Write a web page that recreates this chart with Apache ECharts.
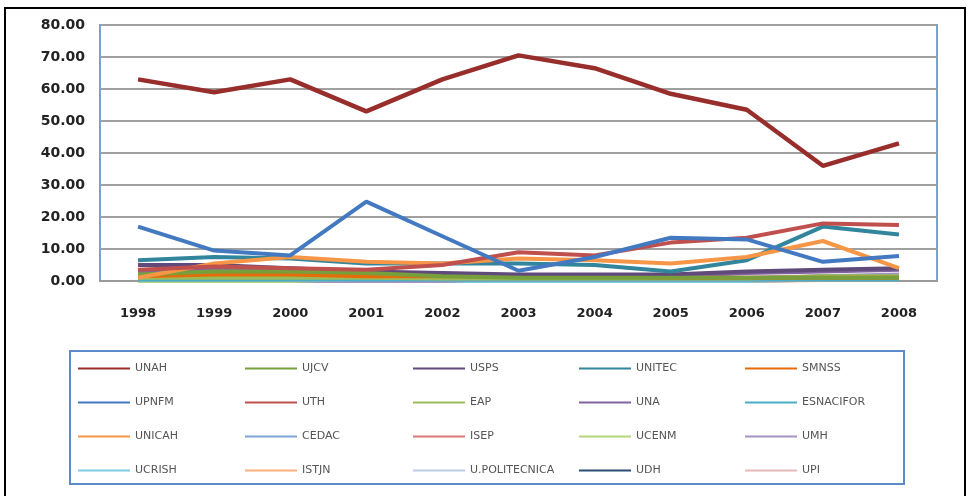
<!DOCTYPE html>
<html>
<head>
<meta charset="utf-8">
<script src="https://cdn.jsdelivr.net/npm/echarts@6/dist/echarts.min.js"></script>
<style>
  html, body { margin: 0; padding: 0; background: #fff; }
  #chart { width: 969px; height: 496px; }
</style>
</head>
<body>
<div id="chart"></div>
<script>
// años y valores por institución
var years = ['1998', '1999', '2000', '2001', '2002', '2003', '2004', '2005', '2006', '2007', '2008'];

var UNAH = [63, 59, 63, 53, 63, 70.5, 66.5, 58.5, 53.5, 36, 43];
var UJCV = [2, 3, 3, 2.5, 1.5, 1, 1, 1, 1, 1, 1];
var USPS = [5, 5, 4, 3, 2.5, 2, 2, 2, 3, 3.5, 4];
var UNITEC = [6.5, 7.5, 7, 5.5, 5.5, 5.5, 5, 3, 6.5, 17, 14.5];
var SMNSS = [1.5, 2, 2, 1.5, 1.5, 1.5, 1.5, 1, 1, 1, 1];
var UPNFM = [17, 9.5, 8, 24.8, 14, 3.2, 7.5, 13.5, 13, 6, 7.8];
var UTH = [3.5, 4.5, 4, 3.5, 5, 9, 8, 12, 13.5, 18, 17.5];
var EAP = [1, 1, 1, 1, 0.8, 0.8, 0.8, 0.8, 0.8, 1.5, 1.5];
var UNA = [3, 3.5, 3, 2.5, 2, 1.5, 1.5, 1.5, 2.5, 3, 3.5];
var ESNACIFOR = [0.5, 0.5, 0.5, 0.5, 0.5, 0.5, 0.5, 0.5, 0.5, 0.5, 0.5];
var UNICAH = [1, 5.5, 7.5, 6, 5.5, 7, 6.5, 5.5, 7.5, 12.5, 4];
var CEDAC = [0.5, 0.5, 0.5, 0.5, 0.5, 0.5, 0.5, 0.5, 0.5, 1.5, 1.5];
var ISEP = [0.7, 0.7, 0.7, 0.7, 0.5, 0.5, 0.5, 0.5, 0.5, 0.5, 0.5];
var UCENM = [0, 0, 0, 0.8, 0.8, 0.8, 0.8, 0.8, 0.8, 0.5, 0.5];
var UMH = [0, 0, 0, 0, 0, 1, 1, 1, 1, 1.5, 2];
var UCRISH = [0, 0, 0, 0, 0, 0, 0, 0, 0, 0.5, 0.5];
var ISTJN = [0, 0, 0, 0, 0, 0, 0, 0, 0, 0.3, 0.3];
var UPOLITECNICA = [0, 0, 0, 0, 0, 0, 0, 0.5, 0.5, 0.8, 0.8];
var UDH = [0, 0, 0, 0, 0, 0, 0, 0, 0, 1, 1];
var UPI = [0, 0, 0, 0, 0, 0, 0, 0, 0, 0.5, 0.5];

var names = ['UNAH', 'UJCV', 'USPS', 'UNITEC', 'SMNSS',
             'UPNFM', 'UTH', 'EAP', 'UNA', 'ESNACIFOR',
             'UNICAH', 'CEDAC', 'ISEP', 'UCENM', 'UMH',
             'UCRISH', 'ISTJN', 'U.POLITECNICA', 'UDH', 'UPI'];
var values = [UNAH, UJCV, USPS, UNITEC, SMNSS,
              UPNFM, UTH, EAP, UNA, ESNACIFOR,
              UNICAH, CEDAC, ISEP, UCENM, UMH,
              UCRISH, ISTJN, UPOLITECNICA, UDH, UPI];
var colors = ['#982E2C', '#77A03C', '#604A7B', '#31859C', '#E46C0A',
              '#4279C0', '#C0504D', '#9BBB59', '#8064A2', '#4BACC6',
              '#F79646', '#7FA4D8', '#D9797A', '#B3D57D', '#A591C2',
              '#7CCBE0', '#FAB07A', '#B9CDE5', '#2C4D75', '#E6B9B8'];

var chart = echarts.init(document.getElementById('chart'));

// dibujar de abajo hacia arriba: UNAH y UPNFM encima
var order = [19, 18, 17, 16, 15, 14, 13, 12, 11, 9, 8, 7, 4, 2, 1, 3, 10, 6, 5, 0];
var series = order.map(function (i) {
  return {
    name: names[i],
    type: 'line',
    data: values[i],
    symbol: 'none',
    color: colors[i],
    lineStyle: { width: i === 0 ? 4.5 : 4, color: colors[i] },
    z: 2
  };
});

// leyenda: 5 columnas verticales
var colX = [73, 240, 408, 574, 740];
var legends = colX.map(function (x, c) {
  return {
    orient: 'vertical',
    left: x,
    top: 358,
    itemGap: 23,
    itemWidth: 52,
    itemHeight: 2,
    icon: 'rect',
    data: [names[c], names[c + 5], names[c + 10], names[c + 15]],
    textStyle: { fontFamily: 'DejaVu Sans', fontSize: 11, color: '#555' },
    selectedMode: false
  };
});

chart.setOption({
  animation: false,
  color: colors,
  graphic: [
    { type: 'rect', shape: { x: 5, y: 8, width: 960, height: 500 },
      style: { fill: 'none', stroke: '#000', lineWidth: 2 }, z: -1 },
    { type: 'rect', shape: { x: 70, y: 351, width: 834, height: 133 },
      style: { fill: 'none', stroke: '#5B8BC8', lineWidth: 2 }, z: -1 }
  ],
  legend: legends,
  grid: {
    left: 100, top: 25, width: 837, height: 256,
    show: true, borderColor: '#7BA0D4', borderWidth: 2, backgroundColor: 'transparent'
  },
  xAxis: {
    type: 'category',
    data: years,
    boundaryGap: true,
    axisLine: { show: true, lineStyle: { color: '#9A9A9A', width: 2 } },
    axisTick: { show: false },
    axisLabel: {
      margin: 26, fontFamily: 'DejaVu Sans', fontSize: 13, fontWeight: 'bold', color: '#222'
    }
  },
  yAxis: {
    type: 'value',
    min: 0, max: 80, interval: 10,
    axisLine: { show: false },
    axisTick: { show: false },
    splitLine: { lineStyle: { color: '#A0A0A0', width: 2 } },
    axisLabel: {
      margin: 15, fontFamily: 'DejaVu Sans', fontSize: 14, fontWeight: 'bold', color: '#222',
      formatter: function (v) { return v.toFixed(2); }
    }
  },
  series: series
});
</script>
</body>
</html>
